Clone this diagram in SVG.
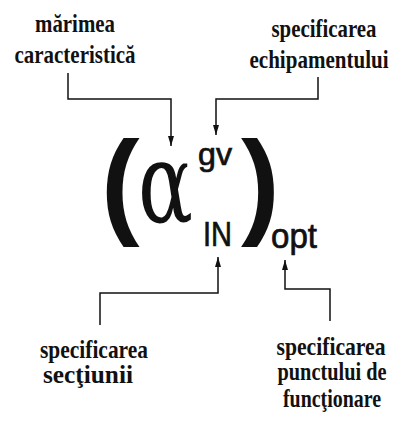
<svg xmlns="http://www.w3.org/2000/svg" width="393" height="423" viewBox="0 0 393 423">
<defs>
<marker id="ah" viewBox="0 0 10 6" refX="10" refY="3" markerWidth="10" markerHeight="6" markerUnits="userSpaceOnUse" orient="auto">
<path d="M0,0 L10,3 L0,6 Z" fill="#111"/>
</marker>
<style>
.lbl{font-family:"Liberation Serif","Times New Roman",serif;font-weight:bold;font-size:25px;fill:#111;text-anchor:middle}
.sans{font-family:"Liberation Sans",Arial,sans-serif;fill:#111}
.sub{stroke:#111;stroke-width:0.7}
.conn{fill:none;stroke:#111;stroke-width:1.5}
</style>
</defs>
<rect width="393" height="423" fill="#fff"/>
<g id="formula">
<text class="sans" x="101" y="223" font-size="116" font-weight="bold">(</text>
<text x="138" y="222" font-family="DejaVu Serif,serif" font-size="112" fill="#111" textLength="55" lengthAdjust="spacingAndGlyphs">α</text>
<text class="sans sub" x="198" y="165" font-size="31" textLength="34" lengthAdjust="spacingAndGlyphs">gv</text>
<text class="sans sub" x="203" y="246" font-size="35" textLength="29" lengthAdjust="spacingAndGlyphs">IN</text>
<text class="sans" x="241" y="223" font-size="116" font-weight="bold">)</text>
<text class="sans sub" x="271" y="248" font-size="35" textLength="46" lengthAdjust="spacingAndGlyphs">opt</text>
</g>
<g id="n1">
<text class="lbl" x="75" y="32" textLength="80" lengthAdjust="spacingAndGlyphs">mărimea</text>
<text class="lbl" x="75" y="63" textLength="121" lengthAdjust="spacingAndGlyphs">caracteristică</text>
</g>
<g id="n2">
<text class="lbl" x="324" y="37" textLength="105" lengthAdjust="spacingAndGlyphs">specificarea</text>
<text class="lbl" x="319" y="68" textLength="139" lengthAdjust="spacingAndGlyphs">echipamentului</text>
</g>
<g id="n3">
<text class="lbl" x="94" y="358" textLength="108" lengthAdjust="spacingAndGlyphs">specificarea</text>
<text class="lbl" x="88" y="383" textLength="90" lengthAdjust="spacingAndGlyphs">secţiunii</text>
</g>
<g id="n4">
<text class="lbl" x="331" y="355" textLength="109" lengthAdjust="spacingAndGlyphs">specificarea</text>
<text class="lbl" x="332" y="380" textLength="109" lengthAdjust="spacingAndGlyphs">punctului de</text>
<text class="lbl" x="332" y="407" textLength="98" lengthAdjust="spacingAndGlyphs">funcţionare</text>
</g>
<g id="connectors">
<polyline class="conn" points="68,73 68,99 171,99 171,146" marker-end="url(#ah)"/>
<polyline class="conn" points="318,77 318,99 216,99 216,135" marker-end="url(#ah)"/>
<polyline class="conn" points="100,325 100,293 218,293 218,257" marker-end="url(#ah)"/>
<polyline class="conn" points="330,321 330,289 285,289 285,260" marker-end="url(#ah)"/>
</g>
</svg>
